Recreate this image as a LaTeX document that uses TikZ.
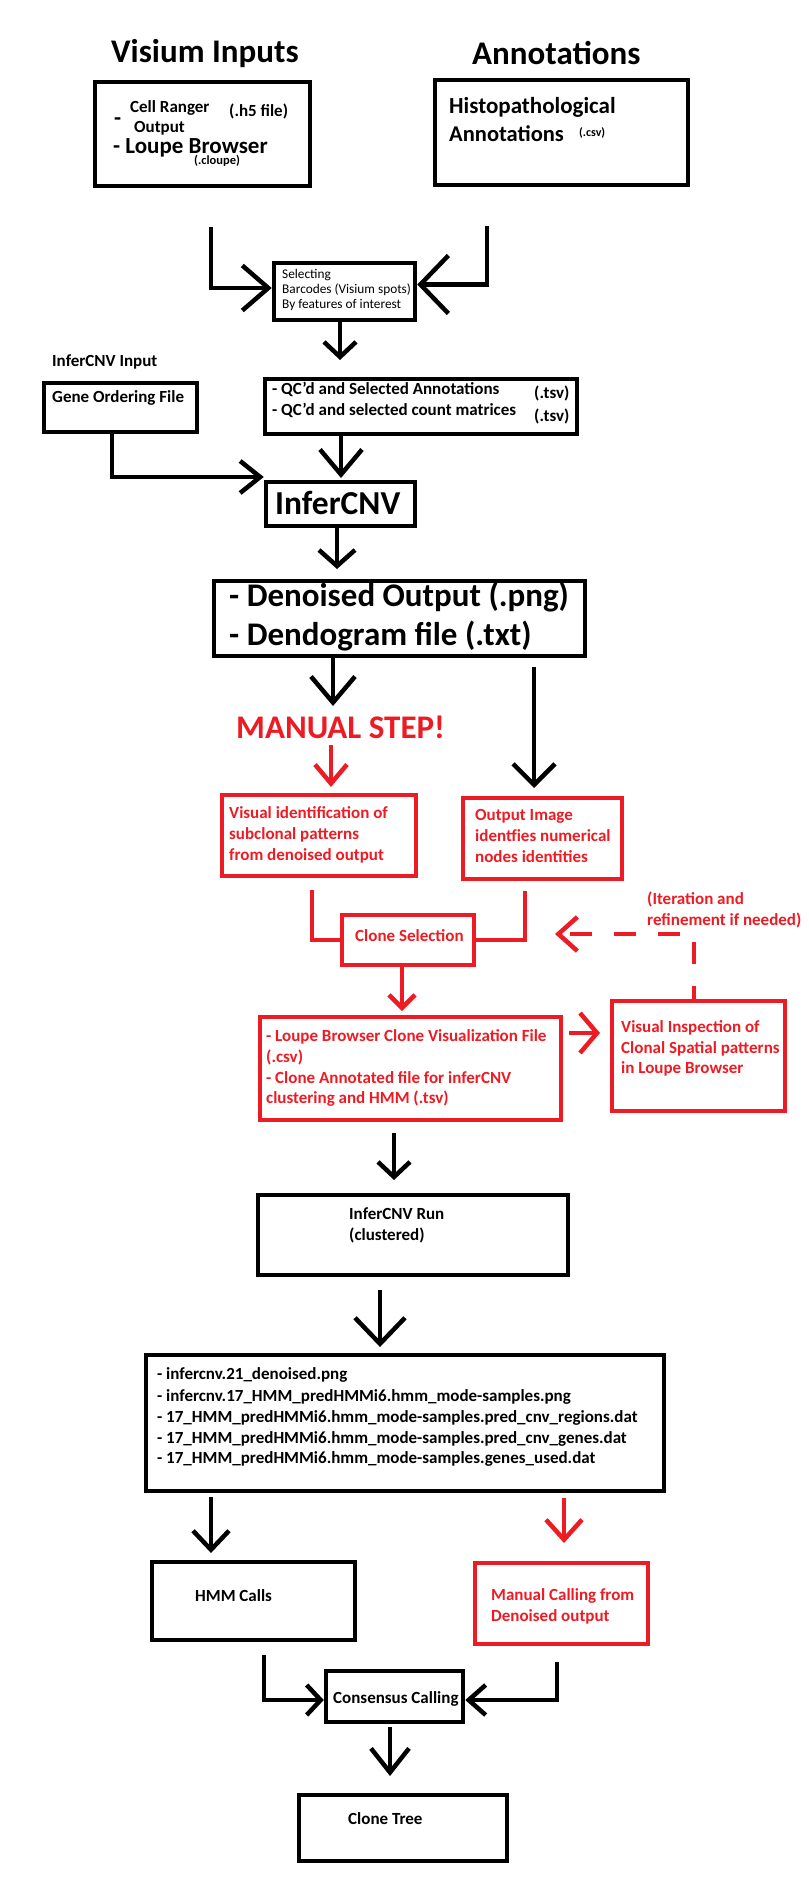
\documentclass[tikz,border=0pt]{standalone}
\usepackage{fontspec}
\setmainfont{Carlito}
\usetikzlibrary{arrows.meta,fit}
\definecolor{pRed}{RGB}{237,28,36}
\newcommand\fsz[2]{\fontsize{#1}{#2}\selectfont}
\begin{document}
\begin{tikzpicture}[x=1pt,y=-1pt,
  box/.style={draw=black,line width=4.5pt,inner sep=0pt},
  rbox/.style={box,draw=pRed},
  lbl/.style={anchor=base west,inner sep=0pt,font=\bfseries\fsz{17}{21}},
  rlbl/.style={lbl,text=pRed},
  conn/.style={line width=4.5pt,draw=black},
  rconn/.style={conn,draw=pRed},
  barb/.style 2 args={-{Straight Barb[length=#1pt,width=#2pt]}},
]
\fill[white] (0,0) rectangle (808,1878);
\useasboundingbox (0,0) rectangle (808,1878);

% ---------- boxes ----------
\node[box,fit={(95,82) (310,186)}] (vis) {};
\node[box,fit={(435,80) (688,185)}] (ann) {};
\node[box,fit={(274,263) (415,320)}] (sel) {};
\node[box,fit={(44,383) (197,432)}] (gene) {};
\node[box,fit={(265,379) (577,434)}] (qc) {};
\node[box,fit={(266,482) (415,526)}] (inf) {};
\node[box,fit={(214,581) (585,656)}] (den) {};
\node[rbox,fit={(222,795) (416,876)}] (vis1) {};
\node[rbox,fit={(463,798) (622,879)}] (out) {};
\node[rbox,fit={(342,915) (474,965)}] (clone) {};
\node[rbox,fit={(260,1017) (561,1120)}] (files) {};
\node[rbox,fit={(612,1001) (785,1111)}] (insp) {};
\node[box,fit={(258,1195) (568,1275)}] (run) {};
\node[box,fit={(146,1355) (664,1491)}] (list) {};
\node[box,fit={(152,1562) (355,1640)}] (hmm) {};
\node[rbox,fit={(475,1563) (648,1644)}] (man) {};
\node[box,fit={(326,1671) (463,1722)}] (cons) {};
\node[box,fit={(299,1795) (507,1861)}] (tree) {};

% ---------- texts ----------
\node[lbl,font=\bfseries\fsz{33}{40}] (tvis) at (111,63) {Visium Inputs};
\node[lbl,font=\bfseries\fsz{33}{40}] (tann) at (472,65) {Annotations};
\node[lbl,font=\bfseries\fsz{23}{28}] (tdash) at (114,126) {-};
\node[lbl] (tcr) at (130,113) {Cell Ranger};
\node[lbl] (th5) at (229,117) {(.h5 file)};
\node[lbl] (tout) at (134,132.5) {Output};
\node[lbl,font=\bfseries\fsz{23}{28}] (tlb) at (113,154) {- Loupe Browser};
\node[lbl,font=\bfseries\fsz{12.5}{15}] (tcl) at (194,164.5) {(.cloupe)};
\node[lbl,font=\bfseries\fsz{23}{28}] (thist1) at (449,114) {Histopathological};
\node[lbl,font=\bfseries\fsz{22.5}{28}] (thist2) at (449,142) {Annotations};
\node[lbl,font=\bfseries\fsz{12}{14}] (tcsv) at (579,137) {(.csv)};
\node[lbl,font=\fsz{13.3}{15}] (tsel1) at (282,278) {Selecting};
\node[lbl,font=\fsz{13.3}{15}] (tsel2) at (282,293) {Barcodes (Visium spots)};
\node[lbl,font=\fsz{13.3}{15}] (tsel3) at (282,308) {By features of interest};
\node[lbl] (tii) at (52,366) {InferCNV Input};
\node[lbl] (tgene) at (52,402) {Gene Ordering File};
\node[lbl] (tqc1) at (272,394) {- QC\char39 d and Selected Annotations};
\node[lbl] (tqc2) at (272,415) {- QC\char39 d and selected count matrices};
\node[lbl] (ttsv1) at (534,398) {(.tsv)};
\node[lbl] (ttsv2) at (534,421) {(.tsv)};
\node[lbl,font=\bfseries\fsz{33.5}{40}] (tinf) at (275,514) {InferCNV};
\node[lbl,font=\bfseries\fsz{33}{39}] (tden1) at (229,606) {- Denoised Output (.png)};
\node[lbl,font=\bfseries\fsz{33}{39}] (tden2) at (229,645) {- Dendogram file (.txt)};
\node[rlbl,font=\bfseries\fsz{33}{40}] (tman) at (236,738) {MANUAL STEP!};
\node[rlbl] (tvis1a) at (229,818) {Visual identification of};
\node[rlbl] (tvis1b) at (229,839) {subclonal patterns};
\node[rlbl] (tvis1c) at (229,860) {from denoised output};
\node[rlbl] (tout2a) at (475,820) {Output Image};
\node[rlbl] (tout2b) at (475,841) {identfies numerical};
\node[rlbl] (tout2c) at (475,862) {nodes identities};
\node[rlbl] (tclone) at (355,941) {Clone Selection};
\node[rlbl] (titer1) at (647,904) {(Iteration and};
\node[rlbl] (titer2) at (647,925) {refinement if needed)};
\node[rlbl] (tfiles1) at (266,1041) {- Loupe Browser Clone Visualization File};
\node[rlbl] (tfiles2) at (266,1062) {(.csv)};
\node[rlbl] (tfiles3) at (266,1083) {- Clone Annotated file for inferCNV};
\node[rlbl] (tfiles4) at (266,1103) {clustering and HMM (.tsv)};
\node[rlbl] (tinsp1) at (621,1032) {Visual Inspection of};
\node[rlbl] (tinsp2) at (621,1053) {Clonal Spatial patterns};
\node[rlbl] (tinsp3) at (621,1073) {in Loupe Browser};
\node[lbl] (trun1) at (349,1219) {InferCNV Run};
\node[lbl] (trun2) at (349,1240) {(clustered)};
\node[lbl] (tlist1) at (157,1379) {- infercnv.21\_denoised.png};
\node[lbl] (tlist2) at (157,1401) {- infercnv.17\_HMM\_predHMMi6.hmm\_mode-samples.png};
\node[lbl] (tlist3) at (157,1422) {- 17\_HMM\_predHMMi6.hmm\_mode-samples.pred\_cnv\_regions.dat};
\node[lbl] (tlist4) at (157,1443) {- 17\_HMM\_predHMMi6.hmm\_mode-samples.pred\_cnv\_genes.dat};
\node[lbl] (tlist5) at (157,1463) {- 17\_HMM\_predHMMi6.hmm\_mode-samples.genes\_used.dat};
\node[lbl] (thmm) at (195,1601) {HMM Calls};
\node[rlbl] (tmc1) at (491,1600) {Manual Calling from};
\node[rlbl] (tmc2) at (491,1621) {Denoised output};
\node[lbl] (tcons) at (333,1703) {Consensus Calling};
\node[lbl] (ttree) at (348,1824) {Clone Tree};

% ---------- connectors ----------
\coordinate (a1) at (211,227);
\draw[conn,barb={26}{45}] (a1) |- ([yshift=3.5pt]sel.west);
\coordinate (a2) at (487,226);
\draw[conn,barb={28}{58}] (a2) |- ([yshift=7pt]sel.east);
\coordinate (a3) at (340,360);
\draw[conn,barb={15}{32}] (sel.south -| a3) -- (a3);
\coordinate (a4) at (112,477);
\draw[conn,barb={20}{32}] (gene.south -| a4) -- (a4) -- (a4 -| inf.west);
\coordinate (a5) at (341,478);
\draw[conn,barb={25}{42}] (qc.south -| a5) -- (a5);
\coordinate (a6) at (337,569);
\draw[conn,barb={16}{36}] (inf.south -| a6) -- (a6);
\coordinate (a7) at (333,706);
\draw[conn,barb={26}{44}] (den.south -| a7) -- (a7);
\coordinate (a8s) at (534,667);
\coordinate (a8) at (534,788);
\draw[conn,barb={21}{42}] (a8s) -- (a8);
\coordinate (a9s) at (331,745);
\coordinate (a9) at (331,787);
\draw[rconn,barb={19}{32}] (a9s) -- (a9);
\coordinate (a10) at (312,890);
\draw[rconn] (a10) |- (clone.west);
\coordinate (a11) at (525,891);
\draw[rconn] (a11) |- (clone.east);
\coordinate (a12) at (694,934);
\coordinate (a12t) at (555,934);
\draw[rconn,dash pattern=on 22pt off 22pt,dash phase=9pt,barb={19}{34}] (insp.north -| a12) -- (a12) -- (a12t);
\coordinate (a13) at (402,1011);
\draw[rconn,barb={13}{26}] (clone.south -| a13) -- (a13);
\coordinate (a14s) at (569,1033);
\coordinate (a14) at (600,1033);
\draw[rconn,barb={17}{40}] (a14s) -- (a14);
\coordinate (a15s) at (394,1133);
\coordinate (a15) at (394,1180);
\draw[conn,barb={15}{32}] (a15s) -- (a15);
\coordinate (a16s) at (380,1290);
\coordinate (a16) at (380,1347);
\draw[conn,barb={26}{50}] (a16s) -- (a16);
\coordinate (a17s) at (211,1497);
\coordinate (a17) at (211,1553);
\draw[conn,barb={19}{36}] (a17s) -- (a17);
\coordinate (a18s) at (564,1498);
\coordinate (a18) at (564,1543);
\draw[rconn,barb={20}{36}] (a18s) -- (a18);
\coordinate (a19) at (264,1655);
\draw[conn,barb={14}{30}] (a19) |- ([yshift=-3.5pt]cons.west);
\coordinate (a20) at (557,1662);
\draw[conn,barb={17}{30}] (a20) |- ([yshift=-3.5pt]cons.east);
\coordinate (a21s) at (390,1727);
\coordinate (a21) at (390,1776);
\draw[conn,barb={24}{38}] (a21s) -- (a21);
\end{tikzpicture}
\end{document}
